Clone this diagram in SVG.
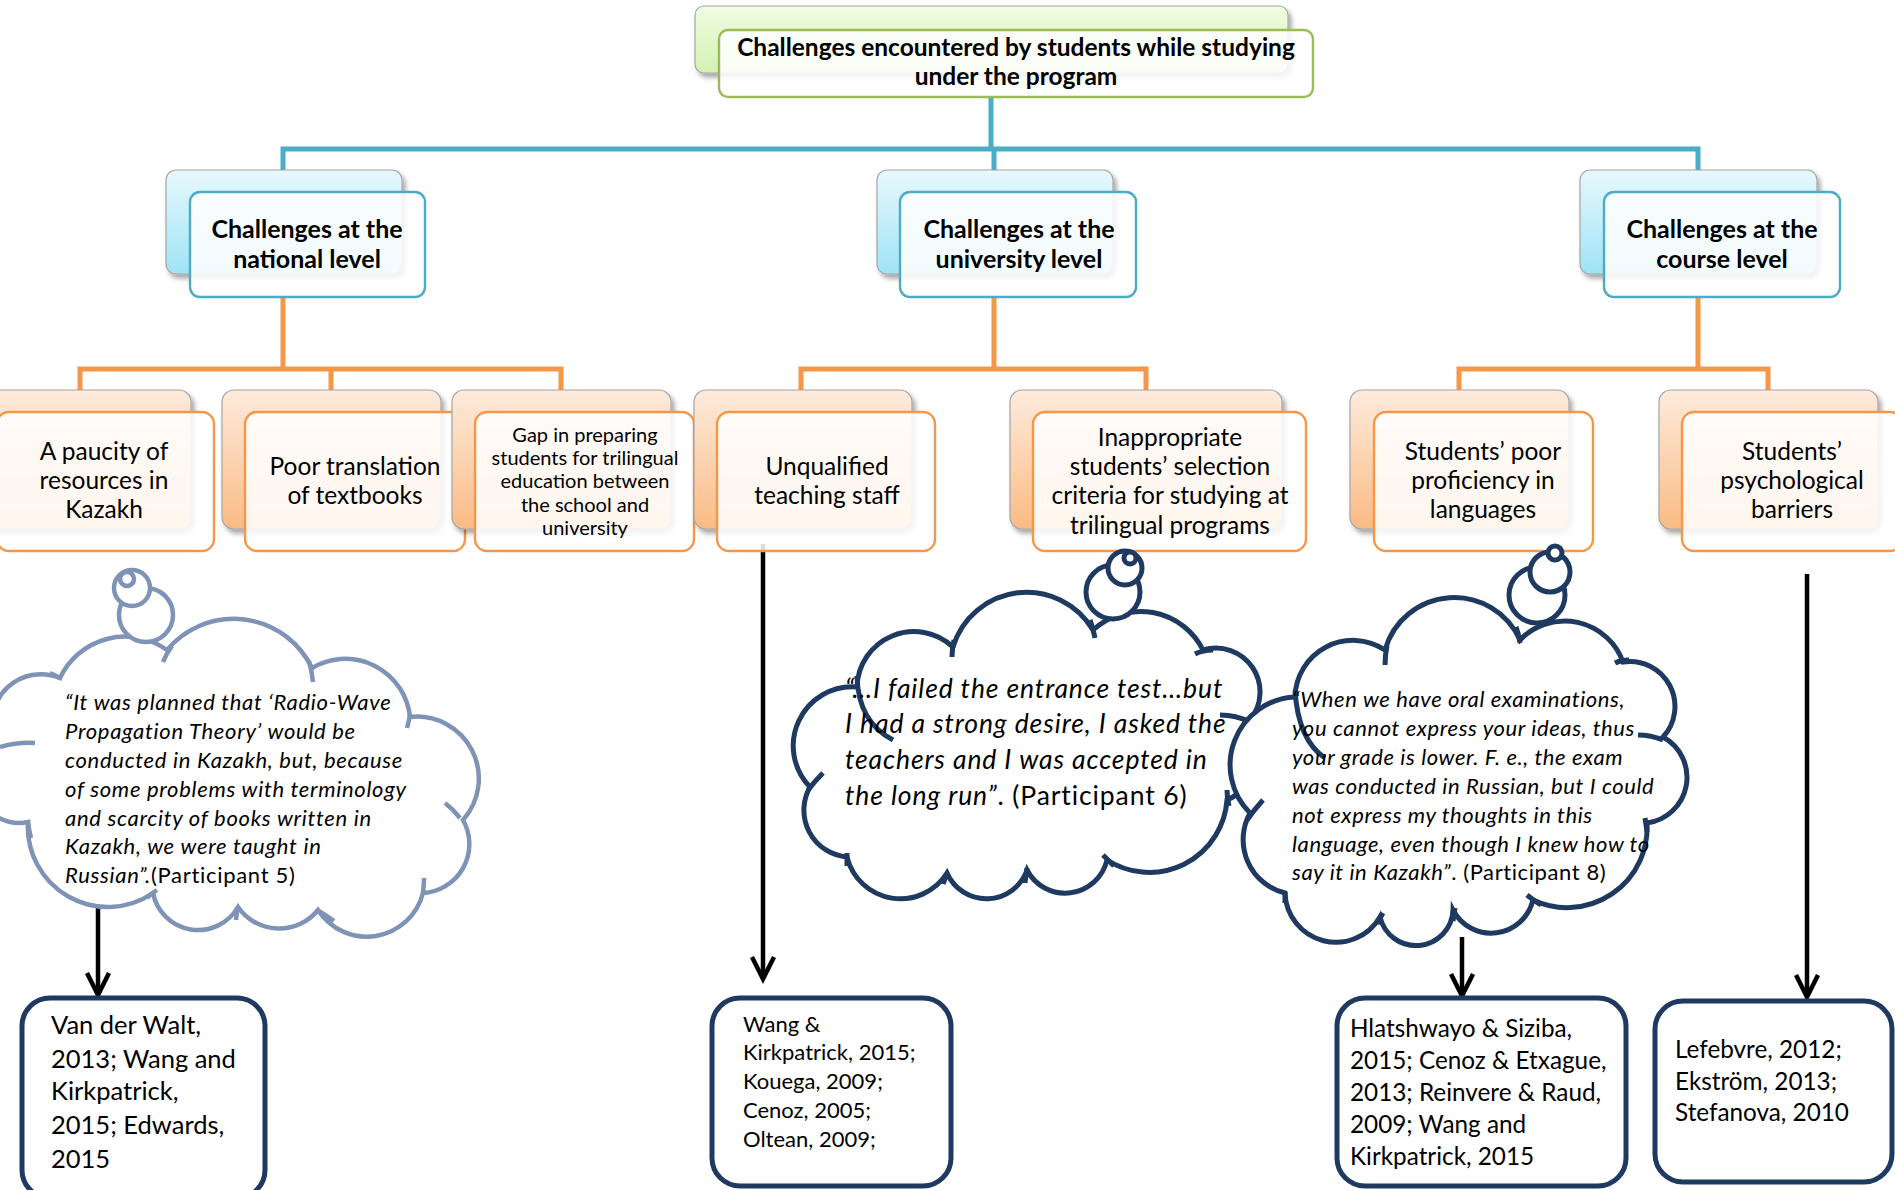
<svg xmlns="http://www.w3.org/2000/svg" width="1895" height="1190" viewBox="0 0 1895 1190">
<defs>
<linearGradient id="gGreen" x1="0" y1="0" x2="0" y2="1"><stop offset="0" stop-color="#f0fce2"/><stop offset="1" stop-color="#d4f2b2"/></linearGradient>
<linearGradient id="gBlue" x1="0" y1="0" x2="0" y2="1"><stop offset="0" stop-color="#e8f8fd"/><stop offset="1" stop-color="#9fe3f6"/></linearGradient>
<linearGradient id="gOrange" x1="0" y1="0" x2="0" y2="1"><stop offset="0" stop-color="#fdebdd"/><stop offset="1" stop-color="#fbbb84"/></linearGradient>
<filter id="sh" x="-10%" y="-10%" width="125%" height="130%"><feDropShadow dx="3" dy="4" stdDeviation="2.5" flood-color="#000" flood-opacity="0.35"/></filter>
<marker id="arr" markerUnits="userSpaceOnUse" viewBox="-30 -16 34 32" refX="0" refY="0" markerWidth="34" markerHeight="32" orient="auto" overflow="visible">
<path d="M -22,-11 L 0,0 L -22,11" fill="none" stroke="#000" stroke-width="4.5" stroke-linejoin="miter"/>
</marker>
<style>
.back{stroke:#a6a6a6;stroke-width:1.2;filter:url(#sh)}
.fg{fill:#fff;fill-opacity:0.86;stroke-width:2.4}
.fgG{stroke:#9bbb59}
.fgB{stroke:#4bacc6}
.fgO{stroke:#f79646}
.t{font-family:Lato,"Liberation Sans",sans-serif;fill:#000;text-anchor:middle}
.tb{font-weight:bold}
.l2{font-size:25px}
.l3{font-size:24.5px}
.l3s{font-size:20px}
.cb{stroke:#1f3a60;stroke-width:5;fill:#fff}
.cg{stroke:#7f93b6;stroke-width:4.5;fill:#fff}
.tick{fill:none;stroke-linecap:butt}
.q{font-family:Lato,"Liberation Sans",sans-serif;font-style:italic;fill:#000}
.q tspan.n{font-style:normal}
.ref{fill:#fff;stroke:#1f3a60;stroke-width:5}
.rt{font-family:Lato,"Liberation Sans",sans-serif;fill:#000}
.blue{stroke:#4bacc6;stroke-width:5;fill:none}
.orng{stroke:#f79646;stroke-width:5;fill:none}
.ar{stroke:#000;stroke-width:4.5;fill:none;marker-end:url(#arr)}
</style>
</defs>
<rect width="1895" height="1190" fill="#fff"/>

<g id="connectors">
<path class="blue" d="M991,97 V149 M283,170 V149 H1698 V170 M994,149 V170"/>
<path class="orng" d="M283,297 V369 M80,390 V369 H561 V390 M331,369 V390"/>
<path class="orng" d="M994,297 V369 M801,390 V369 H1146 V390"/>
<path class="orng" d="M1698,297 V369 M1459,390 V369 H1768 V390"/>
<path class="ar" d="M98,900 V995"/>
<path class="ar" d="M763,544 V979"/>
<path class="ar" d="M1462,937 V996"/>
<path class="ar" d="M1807,574 V997"/>
</g>

<g id="root">
<rect class="back" x="695" y="6" width="593" height="67" rx="9" fill="url(#gGreen)"/>
<rect class="fg fgG" x="719" y="30" width="594" height="67" rx="9"/>
<text class="t tb" x="1016" y="56" font-size="24.5">Challenges encountered by students while studying</text>
<text class="t tb" x="1016" y="85" font-size="24.5">under the program</text>
</g>

<g id="national">
<rect class="back" x="166" y="170" width="236" height="104" rx="10" fill="url(#gBlue)"/>
<rect class="fg fgB" x="190" y="192" width="235" height="105" rx="10"/>
<text class="t tb l2" x="307" y="238">Challenges at the</text>
<text class="t tb l2" x="307" y="268">national level</text>
</g>
<g id="university">
<rect class="back" x="877" y="170" width="236" height="104" rx="10" fill="url(#gBlue)"/>
<rect class="fg fgB" x="900" y="192" width="236" height="105" rx="10"/>
<text class="t tb l2" x="1019" y="238">Challenges at the</text>
<text class="t tb l2" x="1019" y="268">university level</text>
</g>
<g id="course">
<rect class="back" x="1580" y="170" width="237" height="104" rx="10" fill="url(#gBlue)"/>
<rect class="fg fgB" x="1604" y="192" width="236" height="105" rx="10"/>
<text class="t tb l2" x="1722" y="238">Challenges at the</text>
<text class="t tb l2" x="1722" y="268">course level</text>
</g>

<g id="paucity">
<rect class="back" x="-30" y="390" width="221" height="139" rx="12" fill="url(#gOrange)"/>
<rect class="fg fgO" x="-3" y="412" width="217" height="139" rx="12"/>
<text class="t l3" x="104" y="460">A paucity of</text>
<text class="t l3" x="104" y="489">resources in</text>
<text class="t l3" x="104" y="518">Kazakh</text>
</g>
<g id="translation">
<rect class="back" x="222" y="390" width="219" height="139" rx="12" fill="url(#gOrange)"/>
<rect class="fg fgO" x="245" y="412" width="220" height="139" rx="12"/>
<text class="t l3" x="355" y="475">Poor translation</text>
<text class="t l3" x="355" y="504">of textbooks</text>
</g>
<g id="gap">
<rect class="back" x="452" y="390" width="219" height="139" rx="12" fill="url(#gOrange)"/>
<rect class="fg fgO" x="475" y="412" width="219" height="139" rx="12"/>
<text class="t l3s" x="585" y="442">Gap in preparing</text>
<text class="t l3s" x="585" y="465">students for trilingual</text>
<text class="t l3s" x="585" y="488">education between</text>
<text class="t l3s" x="585" y="512">the school and</text>
<text class="t l3s" x="585" y="535">university</text>
</g>
<g id="unqualified">
<rect class="back" x="694" y="390" width="218" height="139" rx="12" fill="url(#gOrange)"/>
<rect class="fg fgO" x="717" y="412" width="218" height="139" rx="12"/>
<text class="t l3" x="827" y="475">Unqualified</text>
<text class="t l3" x="827" y="504">teaching staff</text>
</g>
<g id="selection">
<rect class="back" x="1010" y="390" width="272" height="139" rx="12" fill="url(#gOrange)"/>
<rect class="fg fgO" x="1033" y="412" width="273" height="139" rx="12"/>
<text class="t l3" x="1170" y="446">Inappropriate</text>
<text class="t l3" x="1170" y="475">students’ selection</text>
<text class="t l3" x="1170" y="504">criteria for studying at</text>
<text class="t l3" x="1170" y="534">trilingual programs</text>
</g>
<g id="proficiency">
<rect class="back" x="1350" y="390" width="219" height="139" rx="12" fill="url(#gOrange)"/>
<rect class="fg fgO" x="1374" y="412" width="219" height="139" rx="12"/>
<text class="t l3" x="1483" y="460">Students’ poor</text>
<text class="t l3" x="1483" y="489">proficiency in</text>
<text class="t l3" x="1483" y="518">languages</text>
</g>
<g id="psychological">
<rect class="back" x="1659" y="390" width="219" height="139" rx="12" fill="url(#gOrange)"/>
<rect class="fg fgO" x="1682" y="412" width="220" height="139" rx="12"/>
<text class="t l3" x="1792" y="460">Students’</text>
<text class="t l3" x="1792" y="489">psychological</text>
<text class="t l3" x="1792" y="518">barriers</text>
</g>

<g id="cloud1">
<path class="cg" d="M60,678 A72,72 0 0 1 167,650 A87,87 0 0 1 312,668 A65,65 0 0 1 410,717 A62,62 0 0 1 463,820 A49,49 0 0 1 423,893 A58,58 0 0 1 318,910 A50,50 0 0 1 238,907 A46,46 0 0 1 153,893 A80,80 0 0 1 28,822 A45,45 0 0 1 -5,740 A49,49 0 0 1 60,678 Z"/>
<path class="cg tick" d="M163,662 Q166,654 172,646 M313,682 Q312,672 309,661 M0,747 Q18,742 35,743 M445,803 Q453,809 460,818 M423,893 Q424,885 424,878 M317,910 Q326,915 334,921 M237,907 Q237,913 236,920 M157,890 Q151,894 147,898 M28,822 Q29,830 31,838 M60,678 Q55,675 50,673 M410,715 Q409,721 407,728"/>
<circle class="cg" cx="146" cy="615" r="27"/>
<circle class="cg" cx="132" cy="588" r="18"/>
<circle class="cg" cx="127" cy="579" r="7"/>
<text class="q" font-size="22" letter-spacing="0.7">
<tspan x="65" y="710">“It was planned that ‘Radio-Wave</tspan>
<tspan x="65" y="739">Propagation Theory’ would be</tspan>
<tspan x="65" y="768">conducted in Kazakh, but, because</tspan>
<tspan x="65" y="797">of some problems with terminology</tspan>
<tspan x="65" y="826">and scarcity of books written in</tspan>
<tspan x="65" y="854">Kazakh, we were taught in</tspan>
<tspan x="65" y="883">Russian”.<tspan class="n">(Participant 5)</tspan></tspan>
</text>
</g>

<g id="cloud2">
<path class="cb" d="M857,687 A57,57 0 0 1 953,647 A77,77 0 0 1 1093,630 A70,70 0 0 1 1203,650 A44,44 0 0 1 1250,720 A54,54 0 0 1 1227,800 A78,78 0 0 1 1107,860 A43,43 0 0 1 1027,870 A43,43 0 0 1 947,873 A55,55 0 0 1 847,857 A47,47 0 0 1 810,787 A59,59 0 0 1 857,687 Z"/>
<path class="cb tick" d="M857,676 Q858,722 893,740 M952,657 Q952,648 954,640 M1090,620 Q1093,628 1095,638 M1195,654 Q1203,650 1213,650 M1220,715 Q1236,715 1250,722 M1227,790 Q1227,797 1229,806 M1103,855 Q1108,860 1114,866 M1027,868 Q1026,875 1025,883 M948,873 Q945,878 943,884 M847,853 Q847,858 847,866 M823,773 Q815,781 808,790"/>
<circle class="cb" cx="1113" cy="592" r="27"/>
<circle class="cb" cx="1125" cy="568" r="17"/>
<circle class="cb" cx="1130" cy="558" r="6"/>
<text class="q" font-size="26.5" letter-spacing="0.9">
<tspan x="845" y="698">“…I failed the entrance test…but</tspan>
<tspan x="845" y="733">I had a strong desire, I asked the</tspan>
<tspan x="845" y="769">teachers and I was accepted in</tspan>
<tspan x="845" y="805">the long run”<tspan class="n">. (Participant 6)</tspan></tspan>
</text>
</g>

<g id="cloud3">
<path class="cb" d="M1295,697 A58,58 0 0 1 1385,650 A72,72 0 0 1 1520,640 A62,62 0 0 1 1623,662 A45,45 0 0 1 1663,737 A46,46 0 0 1 1647,823 A80,80 0 0 1 1533,900 A43,43 0 0 1 1453,910 A37,37 0 0 1 1380,917 A51,51 0 0 1 1285,893 A55,55 0 0 1 1250,813 A68,68 0 0 1 1295,697 Z"/>
<path class="cb tick" d="M1295,690 Q1298,740 1325,758 M1385,665 Q1385,655 1387,646 M1520,643 Q1519,635 1516,627 M1615,663 Q1621,660 1629,660 M1638,735 Q1651,735 1663,740 M1645,818 Q1646,824 1647,832 M1527,895 Q1533,900 1541,905 M1455,908 Q1454,915 1453,921 M1383,913 Q1380,918 1377,924 M1285,892 Q1285,897 1285,903 M1263,800 Q1254,810 1247,820"/>
<circle class="cb" cx="1537" cy="595" r="28"/>
<circle class="cb" cx="1550" cy="572" r="20"/>
<circle class="cb" cx="1555" cy="553" r="7"/>
<text class="q" font-size="22" letter-spacing="0.6">
<tspan x="1292" y="707">“When we have oral examinations,</tspan>
<tspan x="1292" y="736">you cannot express your ideas, thus</tspan>
<tspan x="1292" y="765">your grade is lower. F. e., the exam</tspan>
<tspan x="1292" y="794">was conducted in Russian, but I could</tspan>
<tspan x="1292" y="823">not express my thoughts in this</tspan>
<tspan x="1292" y="852">language, even though I knew how to</tspan>
<tspan x="1292" y="880">say it in Kazakh”<tspan class="n">. (Participant 8)</tspan></tspan>
</text>
</g>

<g id="ref1">
<rect class="ref" x="22" y="998" width="243" height="200" rx="28"/>
<text class="rt" font-size="25.5">
<tspan x="51" y="1034">Van der Walt,</tspan>
<tspan x="51" y="1068">2013; Wang and</tspan>
<tspan x="51" y="1100">Kirkpatrick,</tspan>
<tspan x="51" y="1134">2015; Edwards,</tspan>
<tspan x="51" y="1168">2015</tspan>
</text>
</g>
<g id="ref2">
<rect class="ref" x="712" y="998" width="239" height="188" rx="28"/>
<text class="rt" font-size="22">
<tspan x="743" y="1032">Wang &amp;</tspan>
<tspan x="743" y="1060">Kirkpatrick, 2015;</tspan>
<tspan x="743" y="1089">Kouega, 2009;</tspan>
<tspan x="743" y="1118">Cenoz, 2005;</tspan>
<tspan x="743" y="1147">Oltean, 2009;</tspan>
</text>
</g>
<g id="ref3">
<rect class="ref" x="1337" y="998" width="289" height="188" rx="28"/>
<text class="rt" font-size="24.3">
<tspan x="1350" y="1037">Hlatshwayo &amp; Siziba,</tspan>
<tspan x="1350" y="1069">2015; Cenoz &amp; Etxague,</tspan>
<tspan x="1350" y="1101">2013; Reinvere &amp; Raud,</tspan>
<tspan x="1350" y="1133">2009; Wang and</tspan>
<tspan x="1350" y="1165">Kirkpatrick, 2015</tspan>
</text>
</g>
<g id="ref4">
<rect class="ref" x="1655" y="1001" width="237" height="181" rx="28"/>
<text class="rt" font-size="24.3">
<tspan x="1675" y="1058">Lefebvre, 2012;</tspan>
<tspan x="1675" y="1090">Ekström, 2013;</tspan>
<tspan x="1675" y="1121">Stefanova, 2010</tspan>
</text>
</g>
</svg>
